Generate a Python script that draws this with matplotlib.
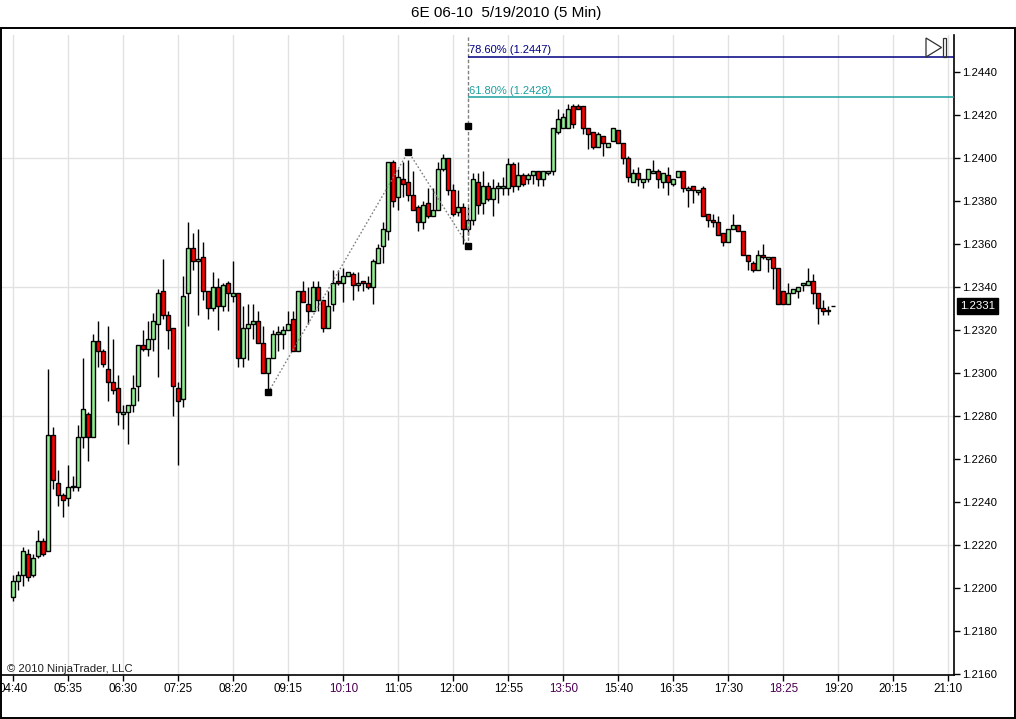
import matplotlib
matplotlib.use("Agg")
import matplotlib.pyplot as plt
from matplotlib.patches import Rectangle, Polygon
from matplotlib.transforms import blended_transform_factory
import numpy as np

plt.rcParams['font.family'] = ['Liberation Sans', 'DejaVu Sans']

# ---------------- data (5-min bars, 6E 06-10, 5/19/2010) ----------------
opens = [1.2196, 1.2203, 1.2206, 1.2216, 1.2206, 1.2215, 1.2222, 1.2217, 1.2271, 1.2249,
         1.2243, 1.2242, 1.2247, 1.2247, 1.2270, 1.2281, 1.2270, 1.2315, 1.2310, 1.2302,
         1.2296, 1.2293, 1.2281, 1.2282, 1.2285, 1.2294, 1.2313, 1.2311, 1.2316, 1.2323,
         1.2338, 1.2327, 1.2321, 1.2293, 1.2288, 1.2337, 1.2358, 1.2352, 1.2354, 1.2338,
         1.2330, 1.2340, 1.2331, 1.2342, 1.2336, 1.2337, 1.2307, 1.2321, 1.2323, 1.2324,
         1.2314, 1.2300, 1.2307, 1.2318, 1.2318, 1.2320, 1.2325, 1.2310, 1.2338, 1.2332,
         1.2329, 1.2340, 1.2334, 1.2321, 1.2332, 1.2343, 1.2342, 1.2345, 1.2346, 1.2341,
         1.2343, 1.2342, 1.2340, 1.2351, 1.2359, 1.2366, 1.2398, 1.2382, 1.2390, 1.2389,
         1.2383, 1.2377, 1.2370, 1.2379, 1.2373, 1.2376, 1.2395, 1.2400, 1.2385, 1.2375,
         1.2377, 1.2367, 1.2371, 1.2389, 1.2379, 1.2387, 1.2381, 1.2386, 1.2386, 1.2386,
         1.2397, 1.2387, 1.2392, 1.2390, 1.2392, 1.2394, 1.2390, 1.2393, 1.2394, 1.2412,
         1.2414, 1.2414, 1.2424, 1.2424, 1.2424, 1.2414, 1.2412, 1.2405, 1.2410, 1.2405,
         1.2408, 1.2413, 1.2407, 1.2400, 1.2389, 1.2393, 1.2389, 1.2390, 1.2393, 1.2394,
         1.2389, 1.2392, 1.2388, 1.2391, 1.2394, 1.2385, 1.2387, 1.2384, 1.2386, 1.2374,
         1.2371, 1.2370, 1.2365, 1.2361, 1.2367, 1.2369, 1.2366, 1.2355, 1.2351, 1.2348,
         1.2355, 1.2353, 1.2354, 1.2349, 1.2338, 1.2332, 1.2337, 1.2338, 1.2341, 1.2341,
         1.2343, 1.2337, 1.2330, 1.2329, 1.2331]
highs = [1.2206, 1.2208, 1.2219, 1.2218, 1.2216, 1.2227, 1.2223, 1.2302, 1.2275, 1.2255,
         1.2244, 1.2257, 1.2252, 1.2276, 1.2307, 1.2282, 1.2318, 1.2324, 1.2311, 1.2322,
         1.2316, 1.2299, 1.2285, 1.2285, 1.2299, 1.2313, 1.2320, 1.2324, 1.2328, 1.2339,
         1.2353, 1.2329, 1.2321, 1.2296, 1.2345, 1.2370, 1.2365, 1.2367, 1.2361, 1.2338,
         1.2347, 1.2344, 1.2342, 1.2343, 1.2352, 1.2337, 1.2331, 1.2332, 1.2332, 1.2329,
         1.2322, 1.2307, 1.2320, 1.2322, 1.2322, 1.2329, 1.2329, 1.2338, 1.2343, 1.2340,
         1.2343, 1.2343, 1.2334, 1.2338, 1.2348, 1.2348, 1.2349, 1.2347, 1.2347, 1.2347,
         1.2343, 1.2345, 1.2353, 1.2360, 1.2370, 1.2398, 1.2399, 1.2395, 1.2398, 1.2399,
         1.2394, 1.2378, 1.2380, 1.2386, 1.2386, 1.2398, 1.2402, 1.2400, 1.2388, 1.2385,
         1.2379, 1.2377, 1.2393, 1.2393, 1.2394, 1.2389, 1.2390, 1.2389, 1.2391, 1.2400,
         1.2398, 1.2398, 1.2393, 1.2393, 1.2394, 1.2394, 1.2394, 1.2394, 1.2414, 1.2423,
         1.2421, 1.2425, 1.2425, 1.2425, 1.2424, 1.2414, 1.2412, 1.2412, 1.2410, 1.2407,
         1.2414, 1.2413, 1.2407, 1.2401, 1.2395, 1.2396, 1.2390, 1.2395, 1.2399, 1.2395,
         1.2393, 1.2396, 1.2390, 1.2394, 1.2394, 1.2387, 1.2387, 1.2385, 1.2387, 1.2374,
         1.2374, 1.2373, 1.2365, 1.2367, 1.2374, 1.2369, 1.2366, 1.2355, 1.2352, 1.2357,
         1.2360, 1.2354, 1.2354, 1.2349, 1.2338, 1.2342, 1.2339, 1.2340, 1.2342, 1.2349,
         1.2346, 1.2337, 1.2334, 1.2331, 1.2331]
lows = [1.2194, 1.2199, 1.2201, 1.2203, 1.2205, 1.2214, 1.2215, 1.2217, 1.2246, 1.2238,
        1.2233, 1.2238, 1.2245, 1.2245, 1.2265, 1.2259, 1.2270, 1.2303, 1.2303, 1.2287,
        1.2290, 1.2276, 1.2274, 1.2267, 1.2282, 1.2287, 1.2310, 1.2308, 1.2310, 1.2298,
        1.2325, 1.2311, 1.2280, 1.2257, 1.2284, 1.2322, 1.2348, 1.2327, 1.2334, 1.2325,
        1.2329, 1.2320, 1.2329, 1.2329, 1.2333, 1.2303, 1.2303, 1.2306, 1.2316, 1.2314,
        1.2300, 1.2291, 1.2307, 1.2310, 1.2311, 1.2320, 1.2310, 1.2310, 1.2333, 1.2323,
        1.2329, 1.2329, 1.2319, 1.2321, 1.2329, 1.2341, 1.2333, 1.2345, 1.2334, 1.2338,
        1.2338, 1.2339, 1.2332, 1.2351, 1.2351, 1.2362, 1.2377, 1.2376, 1.2382, 1.2380,
        1.2376, 1.2366, 1.2367, 1.2372, 1.2373, 1.2376, 1.2394, 1.2383, 1.2373, 1.2373,
        1.2360, 1.2364, 1.2369, 1.2374, 1.2374, 1.2380, 1.2373, 1.2379, 1.2383, 1.2383,
        1.2384, 1.2385, 1.2387, 1.2388, 1.2388, 1.2387, 1.2387, 1.2392, 1.2392, 1.2411,
        1.2414, 1.2414, 1.2414, 1.2423, 1.2411, 1.2404, 1.2404, 1.2405, 1.2401, 1.2405,
        1.2408, 1.2407, 1.2397, 1.2389, 1.2389, 1.2387, 1.2386, 1.2389, 1.2393, 1.2386,
        1.2386, 1.2383, 1.2387, 1.2391, 1.2384, 1.2377, 1.2379, 1.2383, 1.2373, 1.2368,
        1.2368, 1.2364, 1.2359, 1.2361, 1.2367, 1.2366, 1.2355, 1.2348, 1.2347, 1.2348,
        1.2353, 1.2347, 1.2339, 1.2332, 1.2332, 1.2332, 1.2337, 1.2335, 1.2338, 1.2341,
        1.2332, 1.2323, 1.2327, 1.2327, 1.2331]
closes = [1.2203, 1.2206, 1.2217, 1.2205, 1.2214, 1.2222, 1.2216, 1.2271, 1.2250, 1.2243,
          1.2241, 1.2247, 1.2247, 1.2270, 1.2283, 1.2270, 1.2315, 1.2310, 1.2304, 1.2296,
          1.2292, 1.2282, 1.2282, 1.2285, 1.2293, 1.2313, 1.2311, 1.2316, 1.2324, 1.2337,
          1.2327, 1.2320, 1.2294, 1.2287, 1.2336, 1.2358, 1.2352, 1.2353, 1.2338, 1.2330,
          1.2340, 1.2331, 1.2341, 1.2337, 1.2337, 1.2307, 1.2321, 1.2323, 1.2324, 1.2314,
          1.2300, 1.2307, 1.2318, 1.2319, 1.2320, 1.2323, 1.2310, 1.2338, 1.2333, 1.2329,
          1.2340, 1.2334, 1.2321, 1.2331, 1.2342, 1.2342, 1.2345, 1.2347, 1.2341, 1.2342,
          1.2342, 1.2340, 1.2352, 1.2358, 1.2367, 1.2398, 1.2380, 1.2391, 1.2388, 1.2383,
          1.2376, 1.2370, 1.2378, 1.2373, 1.2376, 1.2395, 1.2400, 1.2385, 1.2374, 1.2377,
          1.2367, 1.2371, 1.2390, 1.2378, 1.2387, 1.2381, 1.2386, 1.2387, 1.2387, 1.2397,
          1.2387, 1.2392, 1.2388, 1.2392, 1.2394, 1.2390, 1.2394, 1.2394, 1.2414, 1.2418,
          1.2419, 1.2423, 1.2416, 1.2423, 1.2414, 1.2411, 1.2405, 1.2411, 1.2407, 1.2407,
          1.2414, 1.2407, 1.2400, 1.2391, 1.2393, 1.2390, 1.2390, 1.2395, 1.2394, 1.2390,
          1.2393, 1.2389, 1.2390, 1.2394, 1.2386, 1.2386, 1.2385, 1.2385, 1.2373, 1.2371,
          1.2370, 1.2364, 1.2361, 1.2367, 1.2369, 1.2366, 1.2355, 1.2352, 1.2348, 1.2355,
          1.2354, 1.2354, 1.2349, 1.2332, 1.2332, 1.2337, 1.2339, 1.2340, 1.2342, 1.2343,
          1.2337, 1.2330, 1.2329, 1.2329, 1.2331]

time_labels = ['04:40', '05:35', '06:30', '07:25', '08:20', '09:15', '10:10', '11:05',
               '12:00', '12:55', '13:50', '15:40', '16:35', '17:30', '18:25', '19:20',
               '20:15', '21:10']
purple_labels = ['10:10', '13:50', '18:25']
y_ticks = [1.2160, 1.2180, 1.2200, 1.2220, 1.2240, 1.2260, 1.2280, 1.2300,
           1.2320, 1.2340, 1.2360, 1.2380, 1.2400, 1.2420, 1.2440]
grid_y = [1.2220, 1.2280, 1.2340, 1.2400]

# Fibonacci extension anchors (bar index, price)
fib_idx = [51, 79, 91]
fib_price = [1.2291, 1.2403, 1.2359]
fib_ratios = [0.786, 0.618]
fib_colors = ['#000080', '#1a9e9e']
last_price = 1.2331
title = '6E 06-10  5/19/2010 (5 Min)'

# ---------------- figure ----------------
W, H = 1016, 719
fig = plt.figure(figsize=(W / 100, H / 100), dpi=100)
fig.patch.set_facecolor('white')

def fx(x):
    return x / W

def fy(y):
    return 1 - y / H

ax = fig.add_axes([fx(1), fy(675), (954 - 1) / W, (675 - 35) / H])
ax.set_facecolor('white')

n = len(opens)
idx = np.arange(n)
o = np.array(opens); h = np.array(highs); l = np.array(lows); c = np.array(closes)

ax.set_xlim(-2.46, 188.14)
ax.set_ylim(1.21595, 1.24572)

# grid
tick_pos = [11 * k for k in range(len(time_labels))]
for xp in tick_pos:
    ax.axvline(xp, color='#e2e2e2', lw=1.0, zorder=0)
for yp in grid_y:
    ax.axhline(yp, color='#e2e2e2', lw=1.0, zorder=0)

# candles
ax.vlines(idx, l, h, color='black', lw=1.0, zorder=2)
up = c >= o
bottoms = np.minimum(o, c)
heights = np.maximum(np.abs(c - o), 0.00002)
colors = np.where(up, '#90ee90', '#ff0000')
ax.bar(idx, heights, bottom=bottoms, width=0.78, color=colors,
       edgecolor='black', linewidth=1.0, zorder=3)

# fib extension drawing
ax.plot(fib_idx, fib_price, ls=(0, (1.2, 1.5)), color='#808080', lw=1.0, zorder=4)
rng = fib_price[1] - fib_price[0]
ax.vlines(fib_idx[2], fib_price[2], 1.24572, color='#808080', lw=1.0,
          linestyles=(0, (2.5, 1.5)), zorder=4)
ax.plot(fib_idx, fib_price, 's', color='black', ms=4.5, zorder=5)
ax.plot([fib_idx[2]], [fib_price[2] + rng * 0.5], 's', color='black', ms=4.5, zorder=5)
for r, col in zip(fib_ratios, fib_colors):
    lvl = fib_price[2] + rng * r
    ax.hlines(lvl, fib_idx[2], 188.14, color=col, lw=1.1, zorder=4)
    ax.text(fib_idx[2] + 0.2, lvl + 0.00007, f'{r * 100:.2f}% ({lvl:.4f})',
            color=col, fontsize=8.0, va='bottom', ha='left', zorder=6)

# axes styling
for s in ['top', 'left']:
    ax.spines[s].set_visible(False)
ax.spines['right'].set_linewidth(1.2)
ax.spines['bottom'].set_linewidth(1.2)

ax.set_xticks(tick_pos)
ax.set_xticklabels(time_labels)
for lab in ax.get_xticklabels():
    if lab.get_text() in purple_labels:
        lab.set_color('#4a0050')
ax.tick_params(axis='x', direction='out', length=4, width=1, pad=2, labelsize=8.4)

ax.yaxis.tick_right()
ax.set_yticks(y_ticks)
ax.set_yticklabels([f'{v:.4f}' for v in y_ticks])
ax.tick_params(axis='y', direction='out', length=4, width=1, pad=2, labelsize=8.2)

# last price label
trans = blended_transform_factory(ax.transAxes, ax.transData)
ax.text(1.006, last_price, f'{last_price:.4f}', transform=trans, color='white',
        fontsize=8.2, va='center', ha='left', zorder=10,
        bbox=dict(boxstyle='square,pad=0.25', fc='black', ec='black'))

# copyright
ax.text(6 / 953, (675 - 669) / 640, '\u00a9 2010 NinjaTrader, LLC', transform=ax.transAxes,
        fontsize=8.2, va='center', ha='left', color='#202020')

# title
fig.text(fx(506), fy(13), title, fontsize=11, ha='center', va='center')

# outer frame
fig.add_artist(Rectangle((fx(0.8), fy(718)), fx(1014.4), fy(27.5) - fy(718),
                         transform=fig.transFigure, fill=False, ec='black', lw=1.4))

# scroll-to-end icon
fig.add_artist(Polygon([(fx(926), fy(38)), (fx(926), fy(57)), (fx(941.5), fy(47.5))],
                       closed=True, transform=fig.transFigure, fill=False,
                       ec='#303030', lw=0.9))
fig.add_artist(Rectangle((fx(942.5), fy(57)), fx(3.2), fy(38) - fy(57),
                         transform=fig.transFigure, fill=False, ec='#303030', lw=0.9))

fig.savefig('out.png', dpi=100, facecolor='white')
